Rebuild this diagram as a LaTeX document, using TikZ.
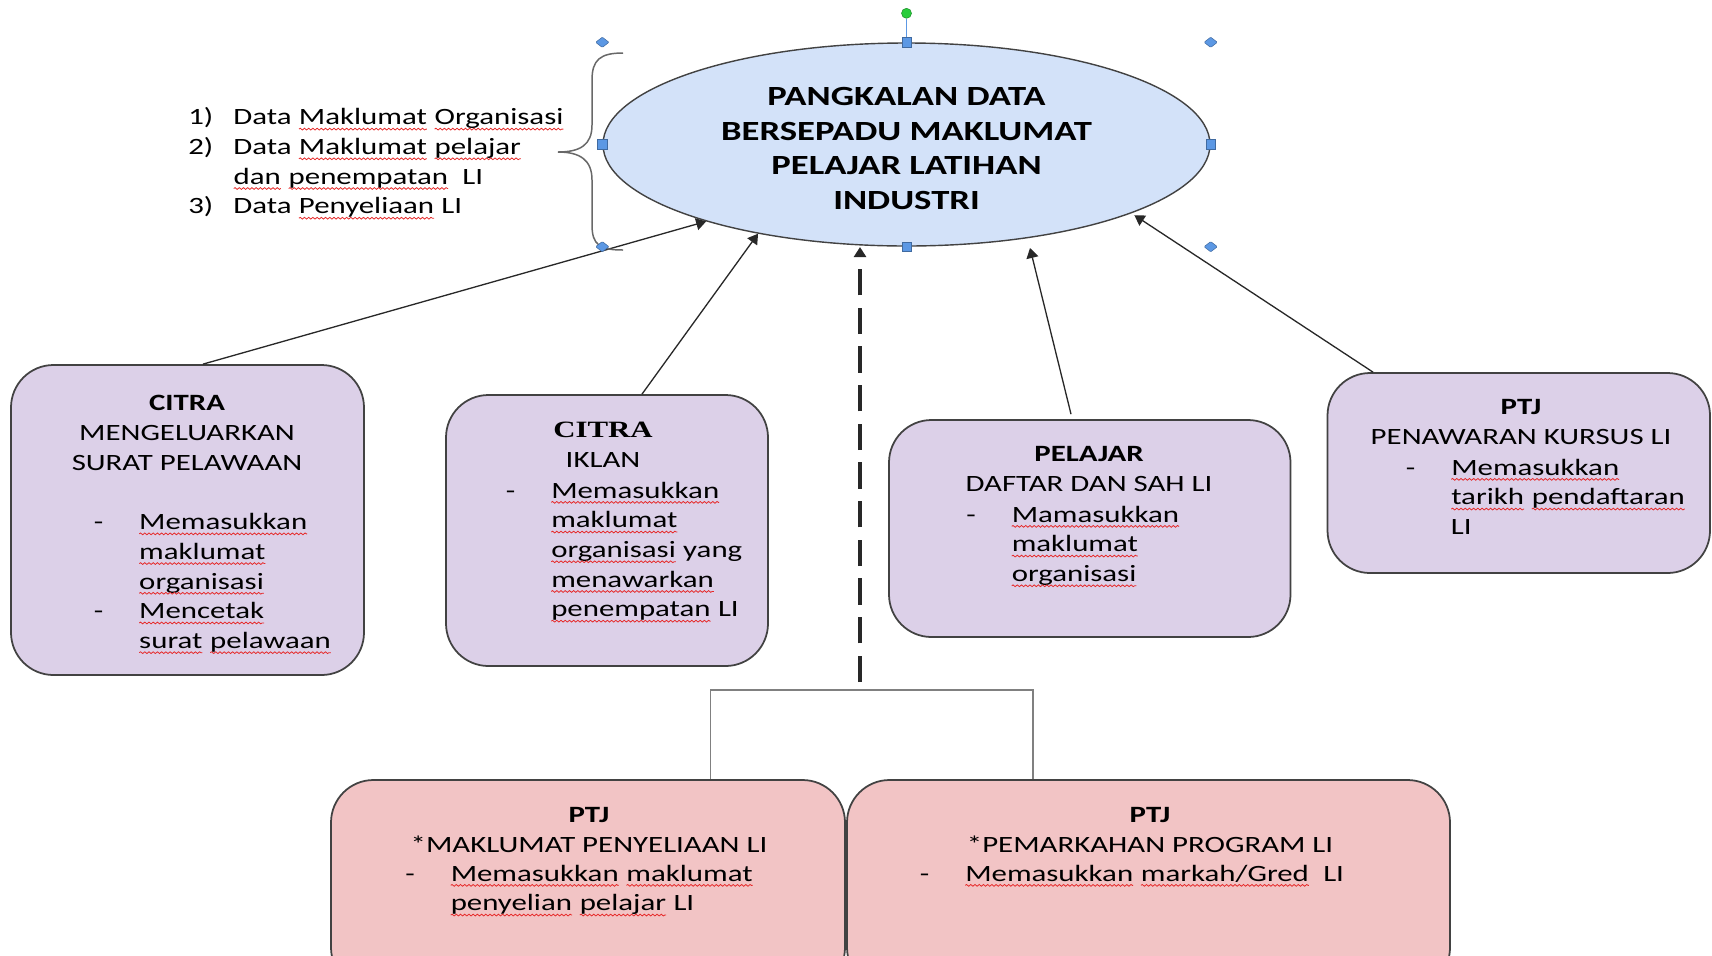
\documentclass[tikz,border=0pt]{standalone}
\usepackage{fontspec}
\setmainfont{Carlito}[FakeStretch=1.32]
\newfontfamily\timeshead{Liberation Serif}[FakeStretch=1.32]
\usetikzlibrary{arrows.meta,shapes.geometric,decorations.pathmorphing}

\definecolor{hubblue}{RGB}{211,226,249}
\definecolor{citrapurple}{RGB}{220,208,232}
\definecolor{ptjpink}{RGB}{242,196,197}
\definecolor{edgegray}{RGB}{66,66,66}
\definecolor{arrowgray}{RGB}{40,40,40}
\definecolor{gripblue}{RGB}{92,152,228}
\definecolor{gripgreen}{RGB}{40,205,60}
\definecolor{spellred}{RGB}{230,40,40}

\newcommand\boxsize{\fontsize{13.3}{16.9}\selectfont}
\newcommand\hubsize{\fontsize{15.8}{19.9}\selectfont}
\newcommand\spell[1]{\tikz[baseline=(w.base)]{\node[inner sep=0pt,outer sep=0pt,anchor=base] (w) {#1};
    \draw[-,spellred,line width=0.45pt,decorate,decoration={snake,amplitude=0.5pt,segment length=2.4pt}]
        ([yshift=-2.4pt]w.base west) -- ([yshift=-2.4pt]w.base east);}}
\newcommand\heads[1]{\begin{tabular}{@{}c@{}}#1\end{tabular}}
\newcommand\itemlist[1]{\begin{tabular}{@{}p{0.9cm}@{}l@{}}#1\end{tabular}}

\begin{document}
\begin{tikzpicture}
\useasboundingbox (0,0) rectangle (34.24,-19.1);
\clip (0,0) rectangle (34.24,-19.1);
\begin{scope}[->,>={Triangle[length=2mm,width=2.4mm]},line width=0.75pt,
              every edge/.style={draw=arrowgray},
              hub/.style={ellipse,draw=edgegray,fill=hubblue,line width=0.8pt,minimum width=12.14cm,
                          minimum height=4.06cm,inner sep=0pt},
              hubtext/.style={inner sep=0pt,align=center,font=\hubsize\bfseries},
              block1/.style={rectangle,rounded corners=0.85cm,draw=edgegray,fill=citrapurple,line width=1pt},
              block2/.style={block1,fill=ptjpink},
              head/.style={anchor=north,inner sep=0pt,font=\boxsize},
              list/.style={anchor=north west,inner sep=0pt,font=\boxsize},
              grip1/.style={rectangle,minimum size=0.19cm,inner sep=0pt,fill=gripblue,draw=gripblue!70!black,line width=0.3pt},
              grip2/.style={diamond,minimum width=0.27cm,minimum height=0.21cm,inner sep=0pt,rounded corners=0.5pt,
                            fill=gripblue,draw=gripblue!70!black,line width=0.3pt},
              grip3/.style={circle,minimum size=0.2cm,inner sep=0pt,fill=gripgreen,draw=gripgreen!70!black,line width=0.3pt},
              longdash/.style={line width=2.1pt,dash pattern=on 15pt off 7pt}]
    \node [hub] (1) at (18.13,-2.89) {};
    \node [hubtext] (1a) at (18.13,-2.97) {PANGKALAN DATA\\BERSEPADU MAKLUMAT\\PELAJAR LATIHAN\\INDUSTRI};
    \node [block1,minimum width=7.06cm,minimum height=6.20cm] (2) at (3.75,-10.40) {};
    \node [block1,minimum width=6.44cm,minimum height=5.42cm] (3) at (12.14,-10.61) {};
    \node [block1,minimum width=8.03cm,minimum height=4.34cm] (4) at (21.795,-10.57) {};
    \node [block1,minimum width=7.65cm,minimum height=4.00cm] (5) at (30.375,-9.46) {};
    \node [block2,minimum width=10.28cm,minimum height=4.20cm] (6) at (11.76,-17.70) {};
    \node [block2,minimum width=12.06cm,minimum height=4.20cm] (7) at (22.97,-17.70) {};

    \node [list] (0) at (3.76,-2.075) {\itemlist{1) & Data \spell{Maklumat} \spell{Organisasi}\\
        2) & Data \spell{Maklumat} \spell{pelajar}\\ & \spell{dan} \spell{penempatan}\ \ LI\\
        3) & Data \spell{Penyeliaan} LI}};

    \node [head] (2a) at (3.74,-7.79) {\heads{\textbf{CITRA}\\MENGELUARKAN\\SURAT PELAWAAN}};
    \node [list] (2b) at (1.87,-10.17) {\itemlist{- & \spell{Memasukkan}\\ & \spell{maklumat}\\ & \spell{organisasi}\\
        - & \spell{Mencetak}\\ & \spell{surat} \spell{pelawaan}}};
    \node [head] (3a) at (12.06,-8.33) {\heads{{\timeshead\bfseries\fontsize{13.3}{16.9}\selectfont CITRA}\\IKLAN}};
    \node [list] (3b) at (10.11,-9.54) {\itemlist{- & \spell{Memasukkan}\\ & \spell{maklumat}\\ & \spell{organisasi} yang\\
        & \spell{menawarkan}\\ & \spell{penempatan} LI}};
    \node [head] (4a) at (21.78,-8.81) {\heads{\textbf{PELAJAR}\\DAFTAR DAN SAH LI}};
    \node [list] (4b) at (19.32,-10.02) {\itemlist{- & \spell{Mamasukkan}\\ & \spell{maklumat}\\ & \spell{organisasi}}};
    \node [head] (5a) at (30.42,-7.87) {\heads{\textbf{PTJ}\\PENAWARAN KURSUS LI}};
    \node [list] (5b) at (28.11,-9.08) {\itemlist{- & \spell{Memasukkan}\\ & \spell{tarikh} \spell{pendaftaran}\\ & LI}};
    \node [head] (6a) at (11.78,-16.02) {\heads{\textbf{PTJ}\\{*}MAKLUMAT PENYELIAAN LI}};
    \node [list] (6b) at (8.10,-17.20) {\itemlist{- & \spell{Memasukkan} \spell{maklumat}\\ & \spell{penyelian} \spell{pelajar} LI}};
    \node [head] (7a) at (23.00,-16.02) {\heads{\textbf{PTJ}\\{*}PEMARKAHAN PROGRAM LI}};
    \node [list] (7b) at (18.39,-17.20) {\itemlist{- & \spell{Memasukkan} \spell{markah/Gred}\ \ LI}};

    \coordinate (8) at (17.20,-13.64);
    \coordinate (9) at (17.20,-4.94);
    \coordinate (10) at (20.60,-4.96);
    \coordinate (11) at (14.21,-13.8);
    \coordinate (12) at (20.66,-13.8);

    \path ([xshift=0.31cm]2.north) edge (1.201);
    \path ([xshift=0.70cm]3.north) edge (1.211);
    \path ([xshift=-0.375cm,yshift=0.1cm]4.north) edge (10);
    \path ([xshift=-2.915cm]5.north) edge [shorten >=2pt] (1.343);
    \path (8) edge [longdash] (9);
    \draw [-,draw=gray,line width=0.7pt] (11 |- 6.north) -- (11) -- (12) -- (12 |- 7.north);

    \draw [-,draw=edgegray!80,line width=0.85pt] (12.46,-1.06) .. controls (12.0,-1.06) and (11.84,-1.2) .. (11.84,-1.6)
        -- (11.84,-2.5) .. controls (11.84,-2.9) and (11.6,-3.04) .. (11.16,-3.04)
        .. controls (11.6,-3.04) and (11.84,-3.2) .. (11.84,-3.6)
        -- (11.84,-4.5) .. controls (11.84,-4.9) and (12.0,-5.0) .. (12.46,-5.0);

    \node [grip3] (1top) at ([yshift=0.58cm]1.north) {};
    \path [-] (1.north) edge [draw=gripblue,line width=0.6pt] (1top);
    \foreach \a in {north,south,east,west}
        \node [grip1] (1\a) at (1.\a) {};
    \foreach \a/\b in {north/west,north/east,south/west,south/east}
        \node [grip2] (1\a\b) at (1.\a -| 1.\b) {};
\end{scope}
\end{tikzpicture}
\end{document}
